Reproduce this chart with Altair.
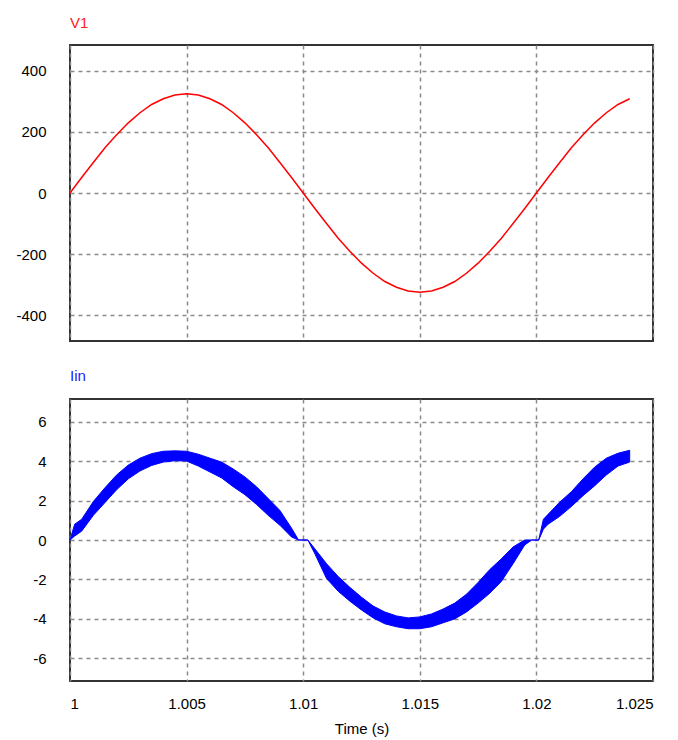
import altair as alt
import pandas as pd

# ---- V1 (top panel) ----
t_v = [1.0000, 1.0005, 1.0010, 1.0015, 1.0020, 1.0025, 1.0030, 1.0035, 1.0040, 1.0045,
       1.0050, 1.0055, 1.0060, 1.0065, 1.0070, 1.0075, 1.0080, 1.0085, 1.0090, 1.0095,
       1.0100, 1.0105, 1.0110, 1.0115, 1.0120, 1.0125, 1.0130, 1.0135, 1.0140, 1.0145,
       1.0150, 1.0155, 1.0160, 1.0165, 1.0170, 1.0175, 1.0180, 1.0185, 1.0190, 1.0195,
       1.0200, 1.0205, 1.0210, 1.0215, 1.0220, 1.0225, 1.0230, 1.0235, 1.0240]
v1 = [0, 51, 100, 148, 191, 230, 263, 290, 309, 321,
      325, 321, 309, 290, 263, 230, 191, 148, 100, 51,
      0, -51, -100, -148, -191, -230, -263, -290, -309, -321,
      -325, -321, -309, -290, -263, -230, -191, -148, -100, -51,
      0, 51, 100, 148, 191, 230, 263, 290, 309]

# ---- Iin (bottom panel): ripple band, lower / upper envelope ----
t_i = [1.0000, 1.0002, 1.0005, 1.0010, 1.0015, 1.0020, 1.0025, 1.0030, 1.0035, 1.0040,
       1.0045, 1.0050, 1.0055, 1.0060, 1.0065, 1.0070, 1.0075, 1.0080, 1.0085, 1.0090,
       1.0095, 1.0098, 1.0102, 1.0105, 1.0110, 1.0115, 1.0120, 1.0125, 1.0130, 1.0135,
       1.0140, 1.0145, 1.0150, 1.0155, 1.0160, 1.0165, 1.0170, 1.0175, 1.0180, 1.0185,
       1.0190, 1.0195, 1.0198, 1.0201, 1.0203, 1.0205, 1.0210, 1.0215, 1.0220, 1.0225,
       1.0230, 1.0235, 1.0240]
i_up = [0.0, 0.8, 1.05, 1.95, 2.65, 3.3, 3.8, 4.15, 4.38, 4.5,
        4.52, 4.5, 4.35, 4.15, 3.95, 3.6, 3.2, 2.7, 2.1, 1.5,
        0.6, 0.0, 0.0, -0.45, -1.2, -1.85, -2.4, -2.9, -3.35, -3.65,
        -3.85, -3.95, -3.9, -3.75, -3.5, -3.2, -2.75, -2.15, -1.5, -0.95,
        -0.35, 0.0, 0.0, 0.0, 1.05, 1.3, 1.92, 2.45, 3.1, 3.7,
        4.15, 4.4, 4.55]
i_lo = [0.0, 0.2, 0.45, 1.25, 1.9, 2.55, 3.1, 3.5, 3.78, 3.95,
        4.02, 4.0, 3.75, 3.45, 3.15, 2.7, 2.3, 1.8, 1.25, 0.75,
        0.15, 0.0, 0.0, -0.7, -1.95, -2.6, -3.1, -3.55, -3.95, -4.25,
        -4.4, -4.5, -4.5, -4.4, -4.2, -4.0, -3.65, -3.2, -2.7, -2.1,
        -1.2, -0.25, 0.0, 0.0, 0.55, 0.8, 1.2, 1.7, 2.25, 2.75,
        3.3, 3.75, 3.95]

x_ticks = [1.0, 1.005, 1.01, 1.015, 1.02, 1.025]
v_ticks = [-400, -200, 0, 200, 400]
i_ticks = [-6, -4, -2, 0, 2, 4, 6]

df_v = pd.DataFrame({"t": t_v, "v": v1})
df_i = pd.DataFrame({"t": t_i, "lo": i_lo, "hi": i_up})

FONT = "Liberation Sans"
xscale = alt.Scale(domain=[1.0, 1.025], nice=False, zero=False)

yaxis_common = dict(ticks=False, domain=False, grid=True, labelPadding=24,
                    minExtent=64, maxExtent=64, title=None,
                    labelExpr="toString(datum.value)",
                    labelFontSize=15, labelColor="#000000", labelFont=FONT)

top = alt.Chart(df_v).mark_line(color="#ff0000", strokeWidth=1.5).encode(
    x=alt.X("t:Q", scale=xscale,
            axis=alt.Axis(values=x_ticks, labels=False, ticks=False, domain=False,
                          grid=True, title=None, minExtent=0, maxExtent=0)),
    y=alt.Y("v:Q", scale=alt.Scale(domain=[-485, 485], nice=False),
            axis=alt.Axis(values=v_ticks, **yaxis_common)),
).properties(
    width=583, height=296,
    title=alt.TitleParams("V1", anchor="start", frame="group", color="#ff2020",
                          fontSize=15, fontWeight="normal", font=FONT, offset=14),
)

bottom = alt.Chart(df_i).mark_area(color="#0000ff", stroke="#0000ff", strokeWidth=1).encode(
    x=alt.X("t:Q", scale=xscale,
            axis=alt.Axis(values=x_ticks, format=".3~f", ticks=False, domain=False,
                          grid=True, title="Time (s)", labelPadding=15,
                          labelFontSize=15, labelColor="#000000", labelFont=FONT,
                          titleFontSize=15, titleFontWeight="normal", titleFont=FONT,
                          titleColor="#000000", titlePadding=10)),
    y=alt.Y("lo:Q", scale=alt.Scale(domain=[-7.15, 7.15], nice=False),
            axis=alt.Axis(values=i_ticks, **yaxis_common)),
    y2="hi:Q",
).properties(
    width=583, height=282,
    title=alt.TitleParams("Iin", anchor="start", frame="group", color="#2020ff",
                          fontSize=15, fontWeight="normal", font=FONT, offset=15),
)

chart = alt.vconcat(top, bottom, spacing=26).properties(
    padding={"left": 5, "top": 15, "right": 5, "bottom": 5}
).configure_view(
    stroke="#333333", strokeWidth=2
).configure_axis(
    gridColor="#8a8a8a", gridDash=[4, 4], gridWidth=1.5, gridOpacity=1
)

chart.save("out.html", embed_options={"renderer": "svg", "actions": False})
